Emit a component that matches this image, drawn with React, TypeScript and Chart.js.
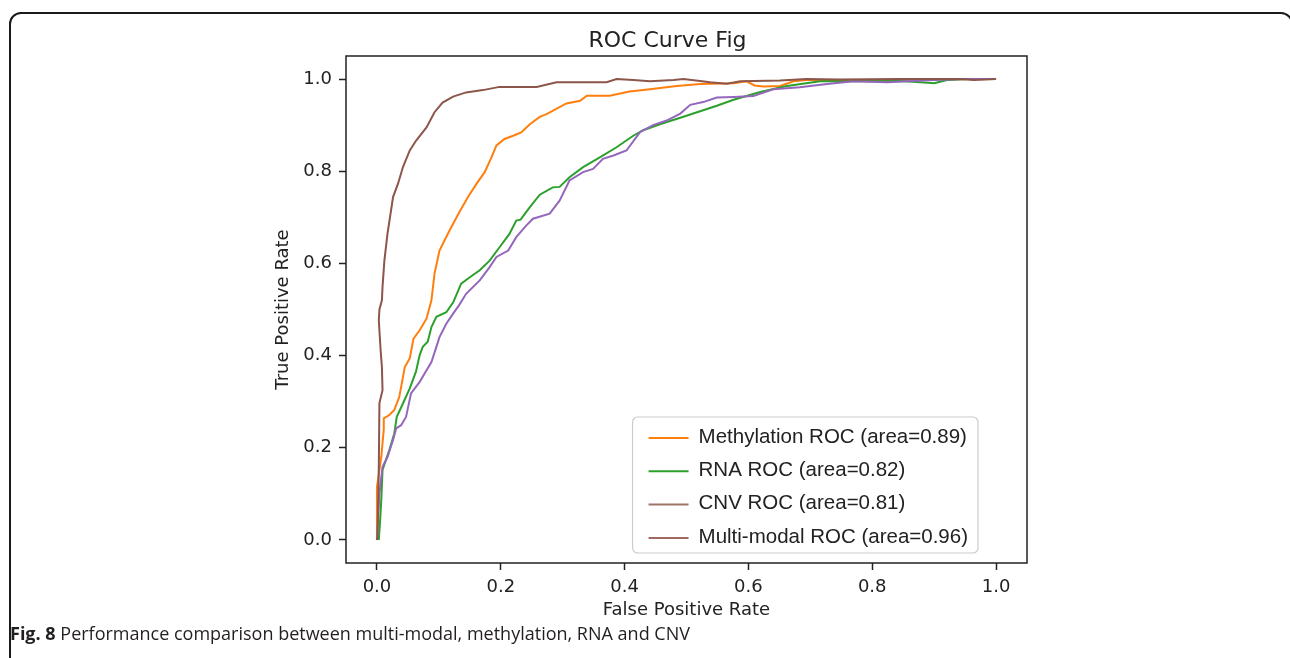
import React, { useEffect, useRef } from "react";
import { Chart, registerables } from "chart.js";

Chart.register(...registerables);

// ---- data ----
const chartTitle = "ROC Curve Fig";
const xAxisTitle = "False Positive Rate";
const yAxisTitle = "True Positive Rate";
const xTickValues = [0, 0.2, 0.4, 0.6, 0.8, 1.0];
const yTickValues = [0, 0.2, 0.4, 0.6, 0.8, 1.0];
const axisMin = -0.05;
const axisMax = 1.05;

const seriesLabels = [
  "Methylation ROC (area=0.89)",
  "RNA ROC (area=0.82)",
  "CNV ROC (area=0.81)",
  "Multi-modal ROC (area=0.96)",
];
const seriesColors = ["#ff7f0e", "#2ca02c", "#9467bd", "#8c564b"];
const legendColors = ["#ff7f0e", "#2ca02c", "#a0736a", "#9c6a60"];

const methFpr = [0, 0, 0, 0.007, 0.011, 0.011, 0.02, 0.028, 0.036, 0.045, 0.053, 0.059, 0.069, 0.08, 0.088, 0.093, 0.101, 0.117, 0.133, 0.147, 0.161, 0.174, 0.185, 0.193, 0.206, 0.22, 0.233, 0.247, 0.263, 0.274, 0.306, 0.328, 0.339, 0.376, 0.408, 0.441, 0.484, 0.522, 0.576, 0.597, 0.61, 0.624, 0.651, 0.673, 0.694, 0.8, 0.9, 1.0];
const methTpr = [0, 0.015, 0.115, 0.18, 0.24, 0.264, 0.271, 0.282, 0.31, 0.375, 0.394, 0.437, 0.455, 0.48, 0.52, 0.578, 0.628, 0.671, 0.711, 0.744, 0.773, 0.798, 0.83, 0.856, 0.87, 0.877, 0.884, 0.902, 0.918, 0.924, 0.947, 0.953, 0.964, 0.964, 0.973, 0.978, 0.985, 0.989, 0.991, 0.995, 0.986, 0.984, 0.985, 0.995, 0.998, 0.998, 0.999, 1.0];

const rnaFpr = [0.003, 0.005, 0.007, 0.009, 0.02, 0.028, 0.032, 0.042, 0.053, 0.063, 0.069, 0.074, 0.082, 0.088, 0.096, 0.112, 0.123, 0.136, 0.15, 0.166, 0.182, 0.198, 0.214, 0.225, 0.232, 0.247, 0.263, 0.284, 0.295, 0.311, 0.333, 0.36, 0.387, 0.414, 0.43, 0.457, 0.49, 0.522, 0.549, 0.576, 0.619, 0.662, 0.716, 0.77, 0.845, 0.878, 0.9, 0.921, 0.953, 1.0];
const rnaTpr = [0, 0.04, 0.087, 0.152, 0.195, 0.231, 0.267, 0.296, 0.329, 0.365, 0.401, 0.419, 0.43, 0.462, 0.484, 0.494, 0.515, 0.556, 0.57, 0.585, 0.606, 0.635, 0.664, 0.693, 0.695, 0.722, 0.749, 0.765, 0.766, 0.787, 0.809, 0.83, 0.852, 0.877, 0.889, 0.902, 0.916, 0.93, 0.942, 0.955, 0.972, 0.985, 0.995, 0.995, 0.996, 0.993, 0.991, 0.998, 1.0, 1.0];

const cnvFpr = [0, 0.004, 0.009, 0.017, 0.026, 0.031, 0.039, 0.047, 0.055, 0.069, 0.077, 0.088, 0.096, 0.101, 0.112, 0.123, 0.133, 0.144, 0.166, 0.182, 0.193, 0.212, 0.225, 0.241, 0.252, 0.279, 0.295, 0.311, 0.333, 0.349, 0.365, 0.382, 0.403, 0.425, 0.446, 0.468, 0.49, 0.506, 0.527, 0.549, 0.576, 0.608, 0.64, 0.683, 0.727, 0.77, 0.824, 0.856, 0.9, 0.953, 1.0];
const cnvTpr = [0, 0.101, 0.159, 0.18, 0.217, 0.242, 0.249, 0.267, 0.318, 0.343, 0.361, 0.386, 0.419, 0.44, 0.469, 0.491, 0.51, 0.534, 0.563, 0.592, 0.614, 0.628, 0.657, 0.682, 0.697, 0.708, 0.736, 0.78, 0.798, 0.805, 0.827, 0.834, 0.845, 0.885, 0.9, 0.91, 0.925, 0.944, 0.95, 0.96, 0.961, 0.963, 0.978, 0.982, 0.989, 0.995, 0.993, 0.995, 0.998, 1.0, 1.0];

const multiFpr = [0, 0.001, 0.003, 0.004, 0.009, 0.008, 0.006, 0.003, 0.004, 0.008, 0.009, 0.012, 0.017, 0.026, 0.034, 0.042, 0.053, 0.063, 0.08, 0.093, 0.106, 0.123, 0.144, 0.171, 0.198, 0.258, 0.29, 0.371, 0.387, 0.414, 0.441, 0.479, 0.495, 0.522, 0.538, 0.565, 0.587, 0.651, 0.694, 0.748, 0.845, 0.943, 0.964, 1.0];
const multiTpr = [0, 0.007, 0.16, 0.297, 0.325, 0.375, 0.41, 0.476, 0.5, 0.52, 0.549, 0.606, 0.664, 0.744, 0.773, 0.809, 0.845, 0.866, 0.895, 0.928, 0.949, 0.962, 0.971, 0.976, 0.983, 0.983, 0.993, 0.993, 1.0, 0.998, 0.995, 0.998, 1.0, 0.996, 0.993, 0.99, 0.995, 0.997, 1.0, 0.999, 1.0, 1.0, 0.998, 1.0];

const captionBold = "Fig. 8";
const captionText = " Performance comparison between multi-modal, methylation, RNA and CNV";

const seriesFpr = [methFpr, rnaFpr, cnvFpr, multiFpr];
const seriesTpr = [methTpr, rnaTpr, cnvTpr, multiTpr];

const TICK_FONT = { family: "'DejaVu Sans', sans-serif", size: 18 };
const INK = "#222222";

const overlayPlugin = {
  id: "overlay",
  afterDatasetsDraw(chart: any) {
    const { ctx, chartArea: a } = chart;
    ctx.save();
    // full axes box (matplotlib spines)
    ctx.strokeStyle = INK;
    ctx.lineWidth = 1.5;
    ctx.strokeRect(a.left, a.top, a.right - a.left, a.bottom - a.top);

    // title
    ctx.fillStyle = INK;
    ctx.font = "22px 'DejaVu Sans', sans-serif";
    ctx.textAlign = "center";
    ctx.textBaseline = "alphabetic";
    ctx.fillText(chartTitle, (a.left + a.right) / 2 - 19, a.top - 9);

    // legend (lower right inside the axes)
    ctx.font = "20.5px 'Liberation Sans', Arial, sans-serif";
    let maxW = 0;
    seriesLabels.forEach((l) => {
      maxW = Math.max(maxW, ctx.measureText(l).width);
    });
    const padL = 16, lineLen = 40, gap = 10, padR = 10;
    const boxW = padL + lineLen + gap + maxW + padR;
    const rowH = 33.3;
    const boxH = 136;
    const boxR = a.right - 49;
    const boxB = a.bottom - 10;
    const boxL = boxR - boxW;
    const boxT = boxB - boxH;
    ctx.beginPath();
    const r = 5;
    ctx.moveTo(boxL + r, boxT);
    ctx.arcTo(boxR, boxT, boxR, boxB, r);
    ctx.arcTo(boxR, boxB, boxL, boxB, r);
    ctx.arcTo(boxL, boxB, boxL, boxT, r);
    ctx.arcTo(boxL, boxT, boxR, boxT, r);
    ctx.closePath();
    ctx.fillStyle = "rgba(255,255,255,0.85)";
    ctx.fill();
    ctx.strokeStyle = "#cccccc";
    ctx.lineWidth = 1.2;
    ctx.stroke();

    ctx.textAlign = "left";
    ctx.textBaseline = "middle";
    seriesLabels.forEach((l, i) => {
      const cy = boxT + 20 + i * rowH;
      ctx.strokeStyle = legendColors[i];
      ctx.lineWidth = 2;
      ctx.beginPath();
      ctx.moveTo(boxL + padL, cy + 1);
      ctx.lineTo(boxL + padL + lineLen, cy + 1);
      ctx.stroke();
      ctx.fillStyle = INK;
      ctx.fillText(l, boxL + padL + lineLen + gap, cy);
    });
    ctx.restore();
  },
};

function RocChart() {
  const ref = useRef<HTMLCanvasElement | null>(null);
  useEffect(() => {
    if (!ref.current) return;
    const order = [3, 2, 1, 0];
    const chart = new Chart(ref.current, {
      type: "line",
      data: {
        datasets: seriesLabels.map((label, i) => ({
          label,
          data: seriesFpr[i].map((x, j) => ({ x, y: seriesTpr[i][j] })),
          borderColor: seriesColors[i],
          backgroundColor: seriesColors[i],
          borderWidth: 2,
          pointRadius: 0,
          tension: 0,
          fill: false,
          order: order[i],
        })),
      },
      options: {
        animation: false,
        responsive: false,
        events: [],
        layout: { padding: { left: 260, right: 263, top: 56, bottom: 35 } },
        plugins: {
          legend: { display: false },
          title: { display: false },
          tooltip: { enabled: false },
        },
        scales: {
          x: {
            type: "linear",
            position: "bottom",
            min: axisMin,
            max: axisMax,
            afterBuildTicks: (s: any) => {
              s.ticks = xTickValues.map((v) => ({ value: v }));
            },
            afterFit: (s: any) => {
              s.height = 60;
            },
            border: { display: false },
            grid: {
              drawOnChartArea: false,
              drawTicks: true,
              tickLength: 7,
              tickWidth: 1.5,
              tickColor: INK,
            },
            ticks: {
              color: INK,
              font: TICK_FONT,
              padding: 7,
              maxRotation: 0,
              autoSkip: false,
              callback: (v: any) => Number(v).toFixed(1),
            },
            title: {
              display: true,
              text: xAxisTitle,
              color: INK,
              font: TICK_FONT,
              padding: { top: 0, bottom: 2 },
            },
          },
          y: {
            type: "linear",
            position: "left",
            min: axisMin,
            max: axisMax,
            afterBuildTicks: (s: any) => {
              s.ticks = yTickValues.map((v) => ({ value: v }));
            },
            afterFit: (s: any) => {
              s.width = 86;
            },
            border: { display: false },
            grid: {
              drawOnChartArea: false,
              drawTicks: true,
              tickLength: 7,
              tickWidth: 1.5,
              tickColor: INK,
            },
            ticks: {
              color: INK,
              font: TICK_FONT,
              padding: 7,
              autoSkip: false,
              callback: (v: any) => Number(v).toFixed(1),
            },
            title: {
              display: true,
              text: yAxisTitle,
              color: INK,
              font: TICK_FONT,
              padding: { top: 13, bottom: 0 },
            },
          },
        },
      },
      plugins: [overlayPlugin],
    });
    return () => chart.destroy();
  }, []);
  return (
    <canvas
      ref={ref}
      width={1290}
      height={658}
      style={{ position: "absolute", left: 0, top: 0, width: 1290, height: 658 }}
    />
  );
}

export default function App() {
  return (
    <div
      style={{
        position: "fixed",
        left: 0,
        top: 0,
        width: 1290,
        height: 658,
        overflow: "hidden",
        background: "#ffffff",
      }}
    >
      <div
        style={{
          position: "absolute",
          left: 9,
          top: 12,
          width: 1284,
          height: 720,
          border: "2px solid #1a1a1a",
          borderRadius: 12,
          boxSizing: "border-box",
        }}
      />
      <RocChart />
      <div
        style={{
          position: "absolute",
          left: 10,
          top: 624,
          fontFamily: "'Open Sans', sans-serif",
          fontSize: 18,
          lineHeight: 1,
          color: "#231f20",
          whiteSpace: "nowrap",
        }}
      >
        <span style={{ fontWeight: 700 }}>{captionBold}</span>
        <span>{captionText}</span>
      </div>
    </div>
  );
}
